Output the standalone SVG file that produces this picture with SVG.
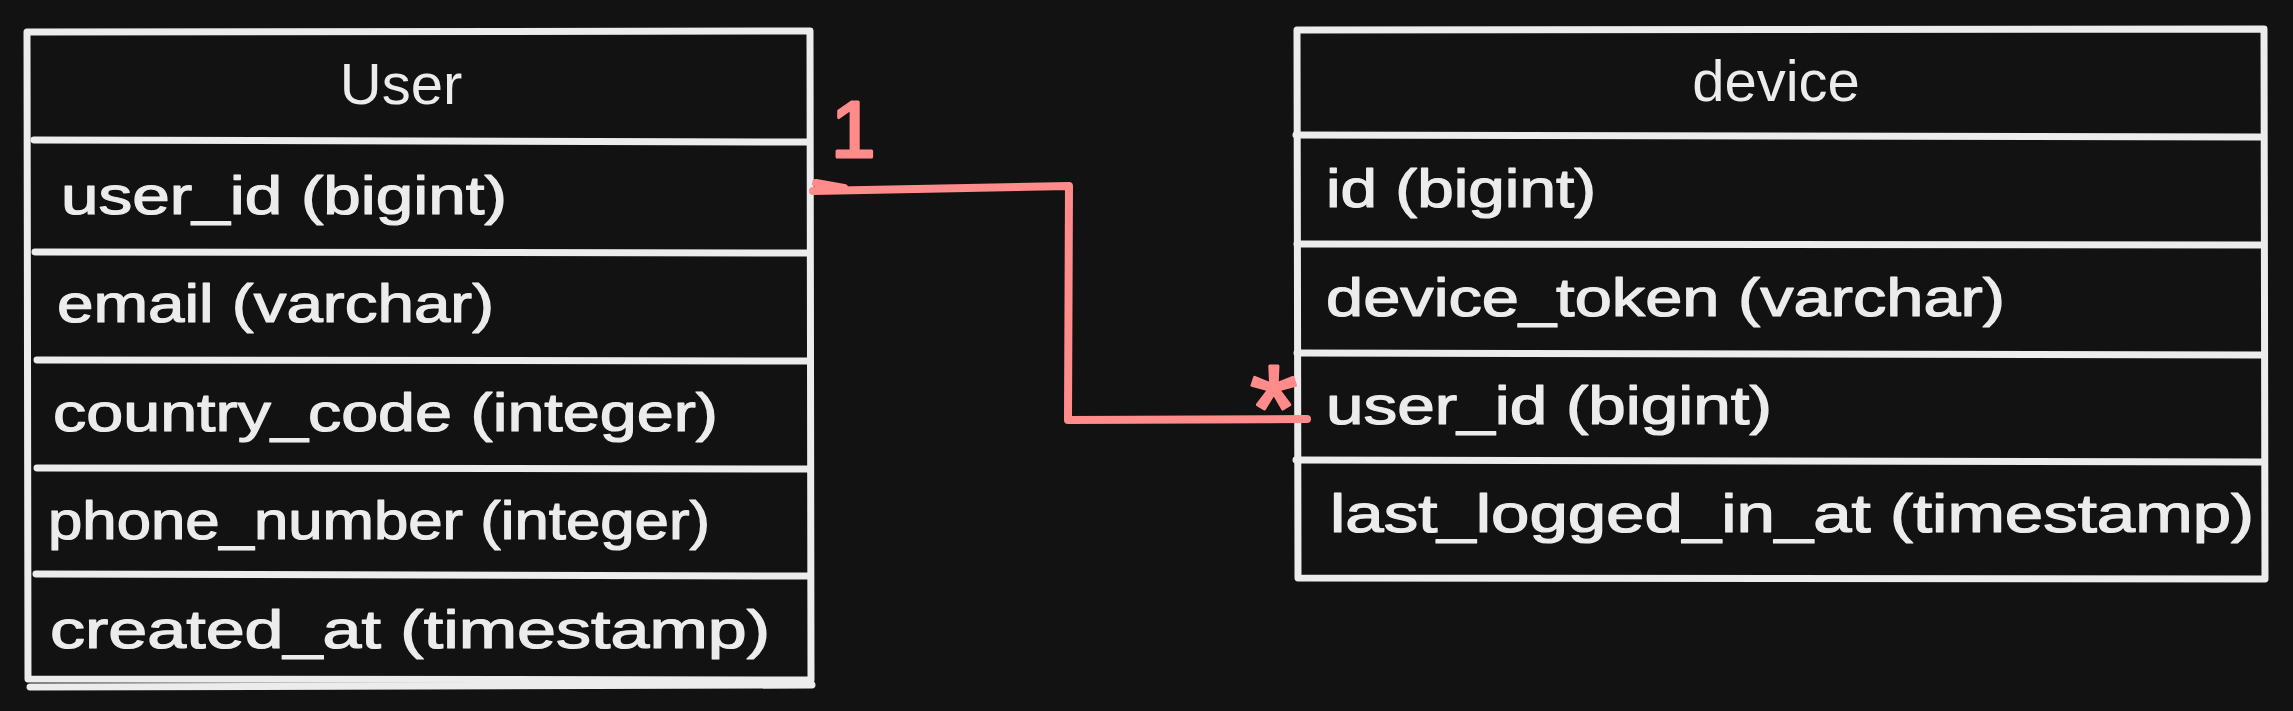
<svg xmlns="http://www.w3.org/2000/svg" width="2293" height="711" viewBox="0 0 2293 711">
<style>
.bg{fill:#121212}
.box{fill:#121212;stroke:#ececec;stroke-width:7;stroke-linecap:round;stroke-linejoin:round}
.ln{fill:none;stroke:#ececec;stroke-width:7;stroke-linecap:round}
.title{font-family:"Liberation Sans",Arial,sans-serif;font-size:58px;fill:#ececec;text-anchor:middle}
.row{font-family:"Liberation Sans",Arial,sans-serif;font-size:54px;fill:#ececec;stroke:#ececec;stroke-width:1.2;stroke-linejoin:round}
.conn{fill:none;stroke:#ff8b8b;stroke-width:8;stroke-linecap:round;stroke-linejoin:round}
.lbl{font-family:"Liberation Sans",Arial,sans-serif;fill:#ff8b8b;stroke:#ff8b8b;stroke-width:3;stroke-linejoin:round}
</style>
<rect class="bg" x="0" y="0" width="2293" height="711"/>
<g id="user">
<path class="box" d="M27,32 L810,31 L811,680 L28,679 Z"/>
<path class="ln" d="M34,140 L809,142"/>
<path class="ln" d="M35,252 L808,253"/>
<path class="ln" d="M37,360 L808,361"/>
<path class="ln" d="M37,468 L809,469"/>
<path class="ln" d="M36,574 L810,576"/>
<path class="ln" d="M30,687 L812,685"/>
<text class="title" x="401" y="104">User</text>
<text class="row" x="61" y="214" textLength="446" lengthAdjust="spacingAndGlyphs">user_id (bigint)</text>
<text class="row" x="57" y="322" textLength="437" lengthAdjust="spacingAndGlyphs">email (varchar)</text>
<text class="row" x="53" y="431" textLength="665" lengthAdjust="spacingAndGlyphs">country_code (integer)</text>
<text class="row" x="48" y="539" textLength="662" lengthAdjust="spacingAndGlyphs">phone_number (integer)</text>
<text class="row" x="50" y="648" textLength="720" lengthAdjust="spacingAndGlyphs">created_at (timestamp)</text>
</g>
<g id="device">
<path class="box" d="M1297,30 L2264,29 L2265,579 L1298,578 Z"/>
<path class="ln" d="M1296,135 L2261,137"/>
<path class="ln" d="M1297,244 L2261,245"/>
<path class="ln" d="M1297,353 L2261,355"/>
<path class="ln" d="M1296,460 L2261,462"/>
<text class="title" x="1776" y="101">device</text>
<text class="row" x="1326" y="207" textLength="270" lengthAdjust="spacingAndGlyphs">id (bigint)</text>
<text class="row" x="1326" y="316" textLength="679" lengthAdjust="spacingAndGlyphs">device_token (varchar)</text>
<text class="row" x="1326" y="424" textLength="446" lengthAdjust="spacingAndGlyphs">user_id (bigint)</text>
<text class="row" x="1330" y="532" textLength="924" lengthAdjust="spacingAndGlyphs">last_logged_in_at (timestamp)</text>
</g>
<g id="connectors">
<path class="conn" d="M813,191 L1069,186 L1068,420 L1307,419"/>
<path class="conn" d="M816,183 L844,188"/>
<text class="lbl" x="831" y="157" font-size="80">1</text>
<text class="lbl" x="1250" y="450" font-size="122">*</text>
</g>
</svg>
